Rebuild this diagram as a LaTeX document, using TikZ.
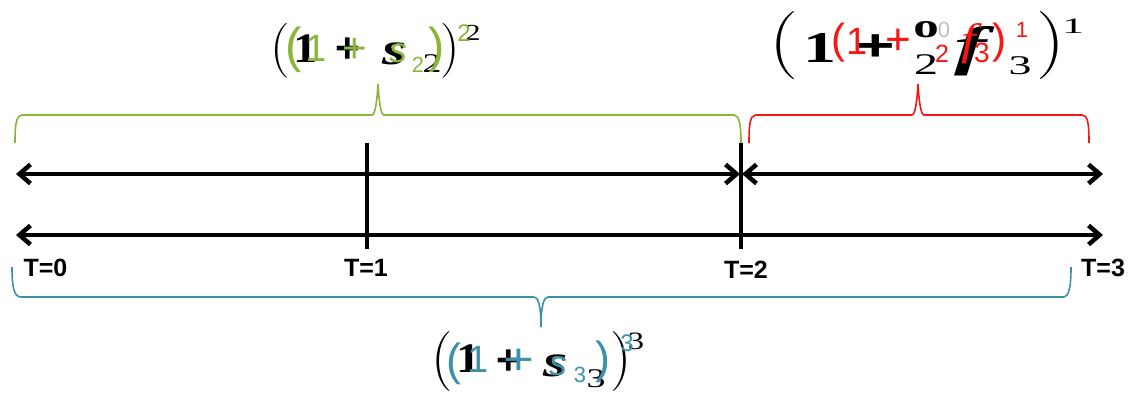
\documentclass[tikz,border=0pt]{standalone}
\usepackage{graphicx}
\usepackage{fontspec}
\newfontfamily\sfA{Liberation Sans}
\newfontfamily\srA{Liberation Serif}
\usetikzlibrary{arrows.meta}
\definecolor{bgreen}{RGB}{137,182,58}
\definecolor{bred}{RGB}{250,20,20}
\definecolor{bteal}{RGB}{60,145,168}
\newcommand\fsz[1]{\fontsize{#1}{#1}\selectfont}
\newcommand\xs[2]{\scalebox{#1}[1]{#2}}
\tikzset{
  glyph/.style={inner sep=0pt,outer sep=0pt,anchor=center},
  barb/.tip={Straight Barb[length=11pt,width=19pt,line width=4.5pt]},
  arr/.style={line width=4pt,{barb}-{barb}},
  tick/.style={line width=4.5pt},
  tlabel/.style={inner sep=0pt,font=\sfA\bfseries\fsz{25}},
  brace/.style={line width=1.6pt}
}
\begin{document}
\begin{tikzpicture}[x=1pt,y=-1pt]
\useasboundingbox (0,0) rectangle (1130,394);
% axis coordinates
\coordinate (a0) at (16,174);
\coordinate (a1) at (740,174);
\coordinate (a2) at (742,174);
\coordinate (a3) at (1103,174);
\coordinate (b0) at (16,235);
\coordinate (b3) at (1103,235);
\coordinate (t1u) at (367,143);
\coordinate (t1d) at (367,249);
\coordinate (t2u) at (741,143);
\coordinate (t2d) at (741,249);
\draw[arr] (a0) -- (a1);
\draw[arr] (a2) -- (a3);
\draw[arr] (b0) -- (b3);
\draw[tick] (t1u) -- (t1d);
\draw[tick] (t2u) -- (t2d);
\node[tlabel] (l0) at (45.5,267.5) {T=0};
\node[tlabel] (l1) at (366,267.5) {T=1};
\node[tlabel] (l2) at (746,270) {T=2};
\node[tlabel] (l3) at (1103,267.5) {T=3};
% braces
\coordinate (gL) at (15,143);
\coordinate (gR) at (741,143);
\coordinate (gT) at (378,84);
\draw[brace,bgreen] (gL) .. controls (15,124) and (16,115) .. (23,115) -- (372,115)
  .. controls (375,115) and (377,102) .. (gT) .. controls (379,102) and (381,115) .. (384,115)
  -- (734,115) .. controls (739,115) and (741,124) .. (gR);
\coordinate (rL) at (749,143);
\coordinate (rR) at (1089,143);
\coordinate (rT) at (918,84);
\draw[brace,bred] (rL) .. controls (749,124) and (750,115) .. (756,115) -- (912,115)
  .. controls (915,115) and (917,102) .. (rT) .. controls (919,102) and (921,115) .. (924,115)
  -- (1082,115) .. controls (1088,115) and (1089,124) .. (rR);
\coordinate (cL) at (12,267);
\coordinate (cR) at (1071,267);
\coordinate (cT) at (541,327);
\draw[brace,bteal] (cL) .. controls (12,287) and (14,297) .. (21,297) -- (534,297)
  .. controls (538,297) and (541,305) .. (cT) .. controls (541,305) and (544,297) .. (548,297)
  -- (1063,297) .. controls (1069,297) and (1071,287) .. (cR);
% green formula, black layer
\node[glyph,font=\fsz{55}] (g1) at (280,50.5) {(};
\node[glyph,font=\srA\bfseries\fsz{42}] (g2) at (306,49) {\xs{1.15}{1}};
\node[glyph,font=\sfA\bfseries\fsz{42}] (g3) at (348,50) {+};
\node[glyph,font=\srA\bfseries\itshape\fsz{46}] (g4) at (395,53.5) {\xs{1.35}{s}};
\node[glyph,font=\srA\fsz{27}] (g5) at (432,64) {\xs{1.4}{2}};
\node[glyph,font=\fsz{55}] (g6) at (450,50.5) {)};
\node[glyph,font=\srA\fsz{23}] (g7) at (473,33) {\xs{1.3}{2}};
% green formula, coloured layer
\node[glyph,text=bgreen,font=\sfA\fsz{49}] (h1) at (294,50) {(};
\node[glyph,text=bgreen,font=\sfA\fsz{38}] (h2) at (316,48.5) {1};
\node[glyph,text=bgreen,font=\sfA\fsz{42}] (h3) at (355,50) {+};
\node[glyph,text=bgreen,font=\sfA\itshape\fsz{35}] (h4) at (398,53) {s};
\node[glyph,text=bgreen,font=\sfA\fsz{22}] (h5) at (418,65) {2};
\node[glyph,text=bgreen,font=\sfA\fsz{49}] (h6) at (437,50) {)};
\node[glyph,text=bgreen,font=\sfA\fsz{24}] (h7) at (464,33.5) {2};
% teal formula, black layer
\node[glyph,font=\fsz{60}] (b1) at (442,362) {(};
\node[glyph,font=\srA\bfseries\fsz{42}] (b2) at (469,359) {\xs{1.15}{1}};
\node[glyph,font=\sfA\bfseries\fsz{42}] (b3) at (509,362) {+};
\node[glyph,font=\srA\bfseries\itshape\fsz{46}] (b4) at (556,366) {\xs{1.35}{s}};
\node[glyph,font=\srA\fsz{27}] (b5) at (596,378.5) {\xs{1.4}{3}};
\node[glyph,font=\fsz{60}] (b6) at (621,362) {)};
\node[glyph,font=\srA\fsz{25}] (b7) at (636,341) {\xs{1.3}{3}};
% teal formula, coloured layer
\node[glyph,text=bteal,font=\sfA\fsz{45}] (c1) at (454,364) {(};
\node[glyph,text=bteal,font=\sfA\fsz{38}] (c2) at (478,359) {1};
\node[glyph,text=bteal,font=\sfA\fsz{44}] (c3) at (519,362) {\xs{1.2}{+}};
\node[glyph,text=bteal,font=\sfA\itshape\fsz{35}] (c4) at (558,366) {s};
\node[glyph,text=bteal,font=\sfA\fsz{22}] (c5) at (580,375) {3};
\node[glyph,text=bteal,font=\sfA\fsz{45}] (c6) at (603,362) {)};
\node[glyph,text=bteal,font=\sfA\fsz{24}] (c7) at (627,343) {3};
% red formula, black layer
\node[glyph,font=\fsz{68}] (r1) at (784,46) {\xs{1.2}{(}};
\node[glyph,font=\srA\bfseries\fsz{44}] (r2) at (820,48) {\xs{1.5}{1}};
\node[glyph,font=\sfA\bfseries\fsz{44}] (r3) at (876,48) {\xs{1.5}{+}};
\node[glyph,font=\srA\bfseries\fsz{34}] (r4) at (926,30) {\xs{1.5}{o}};
\node[glyph,text=black!25,font=\sfA\fsz{22}] (r5) at (944,30) {0};
\node[glyph,font=\srA\fsz{30}] (r6) at (926,65) {\xs{1.6}{2}};
\node[glyph,font=\srA\bfseries\itshape\fsz{54}] (r7) at (971,51) {\xs{1.8}{f}};
\node[glyph,font=\srA\fsz{27}] (r8) at (1020,66) {\xs{1.7}{3}};
\node[glyph,font=\fsz{68}] (r9) at (1051,46) {\xs{1.2}{)}};
\node[glyph,font=\srA\fsz{22}] (r10) at (1073,26.5) {\xs{2}{1}};
% red formula, coloured layer
\node[glyph,text=bred,font=\sfA\fsz{42}] (s1) at (838,42.5) {(};
\node[glyph,text=bred,font=\sfA\fsz{38}] (s2) at (857,41.5) {1};
\node[glyph,text=bred,font=\sfA\fsz{44}] (s3) at (898,41.5) {+};
\node[glyph,text=bred,font=\sfA\fsz{25}] (s4) at (942,54) {2};
\node[glyph,text=bred,font=\srA\itshape\fsz{44}] (s5) at (969,43.5) {\xs{1.2}{f}};
\node[glyph,text=bred,font=\sfA\fsz{28}] (s6) at (982,53) {3};
\node[glyph,text=bred,font=\sfA\fsz{42}] (s7) at (999,42.5) {)};
\node[glyph,text=bred,font=\sfA\fsz{22}] (s8) at (1022,30) {1};
\end{tikzpicture}
\end{document}
